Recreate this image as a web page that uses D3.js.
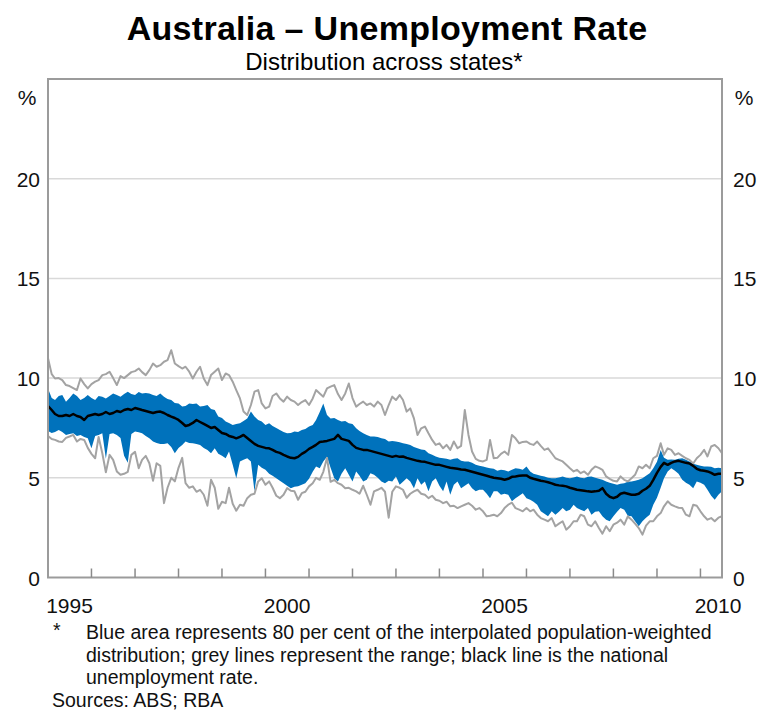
<!DOCTYPE html>
<html>
<head>
<meta charset="utf-8">
<script src="https://cdn.jsdelivr.net/npm/d3@7"></script>
<style>
  body { margin: 0; background: #fff; }
  svg { display: block; font-family: "Liberation Sans", Arial, sans-serif; }
  .frame { fill: none; stroke: #9b9b9b; stroke-width: 2; }
  .grid line { stroke: #d9d9d9; stroke-width: 1.5; }
  .tick-label { font-size: 21px; fill: #111; }
  .note { font-size: 19.5px; fill: #111; }
</style>
</head>
<body>
<svg id="chart"></svg>
<script>
// monthly observations, Jan 1995 - Jul 2010
var months = d3.timeMonths(new Date(1995, 0, 1), new Date(2010, 7, 1));

var nationalRate = [
  8.6, 8.4, 8.2, 8.1, 8.1, 8.15, 8.1, 8.2, 8.1, 8.05, 7.9, 8.1,
  8.15, 8.2, 8.15, 8.2, 8.3, 8.2, 8.25, 8.35, 8.3, 8.4, 8.45, 8.4,
  8.5, 8.45, 8.4, 8.35, 8.3, 8.25, 8.3, 8.32, 8.25, 8.15, 8.07, 8.0,
  7.9, 7.75, 7.6, 7.65, 7.75, 7.9, 7.8, 7.7, 7.6, 7.5, 7.55, 7.4,
  7.25, 7.2, 7.1, 7.05, 6.98, 7.05, 7.15, 7.0, 6.85, 6.7, 6.6, 6.55,
  6.5, 6.48, 6.4, 6.3, 6.25, 6.15, 6.07, 6.0, 5.98, 6.05, 6.2, 6.3,
  6.45, 6.55, 6.65, 6.8, 6.82, 6.85, 6.9, 6.95, 7.15, 6.95, 6.9, 6.85,
  6.65, 6.5, 6.45, 6.4, 6.4, 6.35, 6.3, 6.25, 6.2, 6.15, 6.1, 6.05,
  6.1, 6.05, 6.07, 6.0, 5.95, 5.9, 5.85, 5.82, 5.8, 5.75, 5.7, 5.65,
  5.65, 5.6, 5.55, 5.5, 5.48, 5.45, 5.42, 5.4, 5.35, 5.3, 5.25, 5.2,
  5.15, 5.1, 5.05, 5.0, 4.98, 4.95, 4.9, 4.95, 5.05, 5.07, 5.1, 5.12,
  5.12, 5.0, 4.95, 4.9, 4.85, 4.82, 4.78, 4.72, 4.65, 4.62, 4.6, 4.57,
  4.5, 4.45, 4.4, 4.38, 4.35, 4.32, 4.3, 4.32, 4.35, 4.48, 4.2, 4.05,
  3.98, 4.05, 4.2, 4.25, 4.2, 4.15, 4.15, 4.2, 4.35, 4.45, 4.6, 4.9,
  5.25, 5.55, 5.75, 5.65, 5.75, 5.82, 5.85, 5.8, 5.75, 5.72, 5.6, 5.45,
  5.38, 5.35, 5.32, 5.25, 5.15, 5.2, 5.2
];

// 80 per cent band (10th / 90th percentiles)
var bandHigh = [
  9.48, 9.0, 8.9, 9.1, 9.15, 8.82, 9.0, 9.23, 9.1, 8.9, 9.0, 9.15,
  9.0, 8.9, 9.1, 9.07, 8.98, 9.1, 9.23, 9.15, 9.07, 9.2, 9.32, 9.2,
  9.15, 9.3, 9.23, 9.25, 9.23, 9.15, 9.1, 9.23, 9.07, 8.95, 8.9, 8.75,
  8.73, 8.57, 8.6, 8.73, 8.7, 8.73, 8.57, 8.6, 8.65, 8.45, 8.4, 8.07,
  8.0, 7.82, 7.75, 7.65, 7.7, 7.73, 7.85, 7.98, 8.32, 8.07, 7.9, 7.82,
  7.65, 7.73, 7.6, 7.5, 7.4, 7.3, 7.23, 7.25, 7.32, 7.3, 7.4, 7.45,
  7.57, 7.65, 7.9, 8.3, 8.73, 8.15, 7.98, 8.0, 7.9, 7.82, 7.85, 7.73,
  7.7, 7.48, 7.35, 7.23, 7.15, 7.07, 7.07, 7.05, 6.98, 6.95, 6.82, 6.85,
  6.82, 6.78, 6.73, 6.7, 6.65, 6.55, 6.48, 6.42, 6.4, 6.23, 6.15, 6.07,
  6.0, 5.98, 5.95, 5.9, 5.95, 5.98, 5.85, 5.82, 5.82, 5.75, 5.65, 5.6,
  5.57, 5.52, 5.48, 5.45, 5.35, 5.4, 5.38, 5.32, 5.4, 5.48, 5.45, 5.4,
  5.57, 5.32, 5.2, 5.15, 5.1, 5.07, 5.0, 4.98, 4.98, 5.02, 5.07, 5.0,
  4.98, 5.02, 5.07, 5.0, 4.98, 5.05, 5.07, 5.0, 4.95, 4.9, 4.82, 4.75,
  4.7, 4.65, 4.7, 4.73, 4.8, 4.82, 4.85, 4.9, 4.98, 5.1, 5.23, 5.48,
  5.8, 6.4, 6.0, 5.9, 5.92, 5.9, 5.95, 5.98, 5.9, 5.82, 5.7, 5.65,
  5.6, 5.57, 5.57, 5.55, 5.48, 5.5, 5.48
];
var bandLow = [
  7.35, 7.25, 7.3, 7.4, 7.3, 7.15, 7.2, 7.23, 7.1, 7.15, 7.05, 6.98,
  6.48, 7.1, 7.15, 7.23, 5.95, 7.2, 7.23, 7.15, 7.0, 6.1, 5.75, 7.2,
  7.32, 7.28, 7.23, 7.1, 6.98, 6.82, 6.75, 6.7, 6.7, 6.73, 6.55, 6.23,
  6.5, 6.65, 6.82, 6.75, 6.73, 6.7, 6.65, 6.5, 6.4, 6.23, 6.48, 6.2,
  6.1, 5.98, 6.32, 5.65, 4.98, 5.82, 5.9, 5.98, 5.82, 4.32, 5.65, 5.5,
  5.4, 5.2, 5.1, 4.98, 4.85, 4.73, 4.6, 4.48, 4.55, 4.57, 4.65, 4.73,
  4.95, 5.3, 5.57, 5.48, 5.82, 6.05, 5.5, 4.98, 4.82, 5.2, 5.48, 5.15,
  4.82, 5.32, 5.1, 4.82, 4.9, 5.23, 5.15, 5.0, 4.82, 4.73, 4.85, 4.82,
  5.07, 4.65, 4.8, 4.98, 4.82, 4.48, 4.98, 4.65, 4.82, 4.32, 4.82, 4.98,
  4.6, 4.32, 4.82, 4.15, 4.65, 4.82, 4.48, 4.6, 4.73, 4.48, 4.32, 4.4,
  4.4, 4.2, 3.98, 4.32, 4.32, 4.15, 4.2, 4.15, 3.82, 3.98, 4.1, 4.23,
  3.98, 3.9, 3.8, 3.65, 3.32, 3.2, 3.07, 3.32, 3.15, 3.3, 3.48, 3.32,
  3.4, 3.65, 3.48, 3.4, 3.32, 3.48, 3.15, 3.3, 3.32, 3.07, 2.9, 2.82,
  3.07, 3.3, 3.48, 3.4, 3.1, 3.07, 2.82, 2.57, 2.82, 3.0, 3.15, 3.65,
  4.0, 4.5, 4.98, 5.32, 5.48, 5.35, 5.2, 4.9, 4.75, 4.65, 4.48, 4.82,
  4.75, 4.65, 4.4, 4.1, 3.9, 4.15, 4.32
];

// range across states (max / min)
var rangeHigh = [
  11.0, 10.2, 9.98, 10.0, 9.9, 9.65, 9.6, 9.5, 9.4, 9.98, 9.7, 9.48,
  9.7, 9.82, 9.9, 10.15, 10.2, 10.32, 10.0, 9.65, 10.1, 10.0, 10.15, 10.3,
  10.35, 10.48, 10.3, 10.15, 10.4, 10.73, 10.57, 10.65, 10.82, 10.9, 11.4, 10.73,
  10.6, 10.48, 10.57, 10.32, 9.98, 10.32, 10.57, 9.98, 9.65, 10.15, 10.32, 10.48,
  9.9, 10.23, 10.15, 9.82, 9.4, 8.98, 8.32, 8.15, 8.65, 9.32, 9.4, 8.73,
  8.48, 8.57, 9.1, 9.23, 8.98, 8.82, 9.07, 8.9, 8.82, 8.65, 8.8, 8.9,
  8.65, 8.98, 9.4, 9.23, 9.07, 9.48, 9.57, 9.65, 9.2, 8.9, 9.23, 9.73,
  9.0, 8.57, 8.7, 8.82, 8.65, 8.73, 8.57, 8.82, 8.65, 8.15, 8.65, 9.07,
  8.9, 9.15, 8.9, 8.32, 8.48, 7.98, 7.15, 7.48, 7.57, 7.23, 6.9, 6.65,
  6.73, 6.48, 6.65, 6.4, 6.82, 6.48, 6.6, 8.4, 7.15, 6.32, 5.95, 5.85,
  5.82, 5.9, 6.9, 5.98, 6.0, 6.2, 6.32, 6.15, 7.15, 6.98, 6.73, 6.8,
  6.82, 6.7, 6.65, 6.82, 6.6, 6.4, 6.48, 6.23, 5.98, 5.9, 5.82, 5.65,
  5.48, 5.32, 5.4, 5.23, 5.32, 5.15, 5.4, 5.57, 5.5, 5.4, 5.07, 4.95,
  4.85, 4.82, 5.07, 4.9, 4.82, 4.98, 5.15, 5.57, 5.48, 5.65, 5.48, 5.98,
  6.1, 6.73, 6.15, 6.48, 6.4, 6.15, 6.23, 6.1, 5.98, 5.9, 5.72, 5.98,
  6.15, 6.4, 6.07, 6.57, 6.65, 6.48, 6.23
];
var rangeLow = [
  7.1, 6.95, 6.9, 6.82, 6.8, 7.0, 7.07, 7.15, 6.82, 6.95, 6.9, 6.5,
  6.2, 5.98, 7.05, 6.23, 5.28, 6.15, 5.9, 5.32, 5.15, 5.2, 5.3, 6.15,
  6.3, 5.48, 5.9, 6.1, 5.73, 4.85, 5.73, 5.6, 3.73, 4.5, 5.0, 4.82,
  5.5, 6.0, 4.73, 4.5, 4.57, 4.3, 4.4, 4.15, 3.6, 4.9, 4.5, 3.45,
  3.8, 3.73, 4.5, 3.7, 3.35, 3.65, 3.6, 3.98, 4.15, 4.2, 4.82, 4.98,
  4.65, 4.82, 4.5, 4.1, 3.98, 4.15, 4.48, 4.35, 4.32, 3.9, 4.23, 4.3,
  4.57, 4.73, 5.0, 4.9, 5.3, 6.0, 4.8, 4.9, 4.73, 4.65, 4.48, 4.5,
  4.4, 4.32, 4.2, 4.6, 4.15, 3.65, 4.32, 4.4, 4.5, 4.3, 3.0, 4.3,
  4.57, 4.5, 4.4, 4.0, 4.2, 4.32, 4.4, 4.2, 4.15, 3.98, 4.1, 3.9,
  3.85, 3.73, 3.8, 3.57, 3.6, 3.48, 3.57, 3.65, 3.73, 3.6, 3.4, 3.48,
  3.32, 3.07, 3.1, 3.15, 3.07, 3.23, 3.48, 3.65, 3.75, 3.48, 3.4, 3.32,
  3.48, 3.32, 3.4, 3.15, 2.98, 2.9, 2.82, 2.98, 2.57, 2.7, 2.82, 2.4,
  2.57, 2.82, 2.82, 3.15, 3.07, 2.65, 2.57, 2.82, 2.48, 2.2, 2.57, 2.32,
  2.65, 2.75, 2.9, 2.65, 3.07, 2.9, 2.7, 2.48, 2.15, 2.6, 2.82, 2.82,
  3.07, 3.23, 3.57, 3.82, 3.65, 3.57, 3.5, 3.48, 3.15, 3.07, 3.65, 3.6,
  3.32, 3.07, 2.9, 2.98, 2.82, 3.0, 3.07
];

var yTicks = [0, 5, 10, 15, 20];
var yearLabels = [1995, 2000, 2005, 2010];

var width = 763, height = 710;
var plotLeft = 48, plotRight = 722, plotTop = 79, plotBottom = 577.5;

var svg = d3.select('#chart')
            .attr('width', width)
            .attr('height', height);

var x = d3.scaleTime()
          .domain([months[0], months[months.length - 1]])
          .range([plotLeft, plotRight]);

var y = d3.scaleLinear()
          .domain([0, 25])
          .range([plotBottom, plotTop]);

var rows = months.map((d, i) => ({
    date: d,
    national: nationalRate[i],
    lo: bandLow[i],
    hi: bandHigh[i],
    min: rangeLow[i],
    max: rangeHigh[i]
}));

// titles
svg.append('text')
    .attr('x', 387).attr('y', 40)
    .attr('text-anchor', 'middle')
    .style('font-size', '34px')
    .style('font-weight', 'bold')
    .style('letter-spacing', '0.3px')
    .text('Australia \u2013 Unemployment Rate');
svg.append('text')
    .attr('x', 384).attr('y', 70)
    .attr('text-anchor', 'middle')
    .style('font-size', '24px')
    .text('Distribution across states*');

// gridlines
svg.append('g')
    .attr('class', 'grid')
    .selectAll('line')
    .data(yTicks.filter(t => t > 0))
    .enter()
    .append('line')
        .attr('x1', plotLeft).attr('x2', plotRight)
        .attr('y1', d => y(d)).attr('y2', d => y(d));

// band
var band = d3.area()
    .x(d => x(d.date))
    .y0(d => y(d.lo))
    .y1(d => y(d.hi));
svg.append('path')
    .datum(rows)
    .attr('d', band)
    .attr('fill', '#0072bc');

// range lines
function line(key) {
    return d3.line().x(d => x(d.date)).y(d => y(d[key]));
}
['max', 'min'].forEach(k => {
    svg.append('path')
        .datum(rows)
        .attr('d', line(k))
        .attr('fill', 'none')
        .attr('stroke', '#a3a3a3')
        .attr('stroke-width', 2)
        .attr('stroke-linejoin', 'round');
});

svg.append('path')
    .datum(rows)
    .attr('d', line('national'))
    .attr('fill', 'none')
    .attr('stroke', '#000')
    .attr('stroke-width', 2.5)
    .attr('stroke-linejoin', 'round');

// frame
svg.append('rect')
    .attr('class', 'frame')
    .attr('x', plotLeft).attr('y', plotTop)
    .attr('width', plotRight - plotLeft)
    .attr('height', plotBottom - plotTop);

// year ticks along the bottom, pointing inward
var yearTicks = d3.timeYears(new Date(1996, 0, 1), new Date(2010, 1, 1));
svg.append('g')
    .selectAll('line')
    .data(yearTicks)
    .enter()
    .append('line')
        .attr('x1', d => x(d)).attr('x2', d => x(d))
        .attr('y1', plotBottom).attr('y2', plotBottom - 9)
        .attr('stroke', '#8a8a8a')
        .attr('stroke-width', 1.5);

svg.append('g')
    .selectAll('text')
    .data(yearLabels)
    .enter()
    .append('text')
        .attr('class', 'tick-label')
        .attr('x', d => d === 2010 ? 718 : x(new Date(d, 6, 1)))
        .attr('y', 613)
        .attr('text-anchor', 'middle')
        .text(d => d);

// y tick labels both sides
svg.append('g')
    .selectAll('text')
    .data(yTicks)
    .enter()
    .append('text')
        .attr('class', 'tick-label')
        .attr('x', 40)
        .attr('y', d => y(d) + 8)
        .attr('text-anchor', 'end')
        .text(d => d);
svg.append('g')
    .selectAll('text')
    .data(yTicks)
    .enter()
    .append('text')
        .attr('class', 'tick-label')
        .attr('x', 733)
        .attr('y', d => y(d) + 8)
        .text(d => d);

svg.append('text').attr('class', 'tick-label')
    .attr('x', 27).attr('y', 105).attr('text-anchor', 'middle').text('%');
svg.append('text').attr('class', 'tick-label')
    .attr('x', 744).attr('y', 105).attr('text-anchor', 'middle').text('%');

// notes
var notes = [
    'Blue area represents 80 per cent of the interpolated population-weighted',
    'distribution; grey lines represent the range; black line is the national',
    'unemployment rate.'
];
svg.append('text').attr('class', 'note')
    .attr('x', 53).attr('y', 637).text('*');
svg.selectAll('.noteline')
    .data(notes)
    .enter()
    .append('text')
        .attr('class', 'note')
        .attr('x', 86)
        .attr('y', (d, i) => 639 + i * 22.5)
        .text(d => d);
svg.append('text').attr('class', 'note')
    .attr('x', 52).attr('y', 707)
    .text('Sources: ABS; RBA');
</script>
</body>
</html>
